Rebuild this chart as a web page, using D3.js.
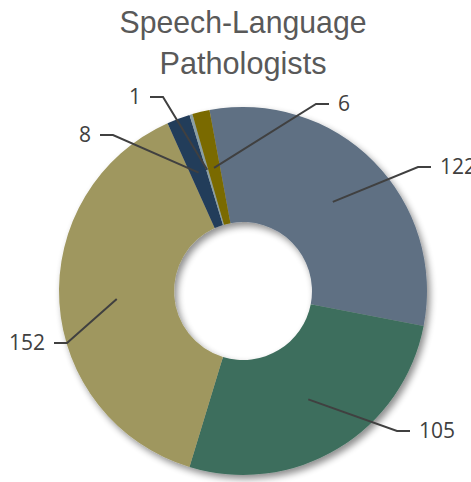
<!DOCTYPE html>
<meta charset='utf-8'>
<style>
  body { margin:0; background:#fff; }
  .title { font-family:'Liberation Sans',sans-serif; font-size:32px; fill:#595959; }
  .lbl { font-family:'Open Sans',sans-serif; font-size:21px; fill:#404040; }
  .leader { fill:none; stroke:#404040; stroke-width:2px; }
</style>
<body>
<script src='https://d3js.org/d3.v7.min.js'></script>
<script>
  var values = [122, 105, 152, 8, 1, 6];
  var colors = ['#5f7083', '#3e6e5d', '#9f975f', '#243c5a', '#8a9fa3', '#7a6a06'];
  var titleLines = ['Speech-Language', 'Pathologists'];
  // bend point of each leader line, relative to the centre, and label side
  var elbows = [[175, -124, 1], [154, 140, 1], [-176, 52, -1], [-130, -156, -1], [-80, -194, -1], [73, -187, 1]];

  var width = 471, height = 482;
  var cx = 243, cy = 291;
  var outer = 184, inner = 69;
  var a0 = -10.5 * Math.PI / 180;

  var svg = d3.select('body').append('svg')
    .attr('width', width)
    .attr('height', height);

  var defs = svg.append('defs');
  var f = defs.append('filter').attr('id', 'shadow')
    .attr('x', '-20%').attr('y', '-20%').attr('width', '140%').attr('height', '140%');
  f.append('feGaussianBlur').attr('in', 'SourceAlpha').attr('stdDeviation', 3.5);
  f.append('feOffset').attr('dx', 3).attr('dy', 4).attr('result', 'off');
  f.append('feComponentTransfer').append('feFuncA').attr('type', 'linear').attr('slope', 0.45);
  var m = f.append('feMerge');
  m.append('feMergeNode');
  m.append('feMergeNode').attr('in', 'SourceGraphic');

  // narrow title: squeeze regular sans to the reference width
  var titleW = [247, 167];
  svg.selectAll('.title')
    .data(titleLines)
    .enter().append('text')
    .attr('class', 'title')
    .attr('x', cx)
    .attr('y', (d, i) => 33 + i * 41)
    .attr('text-anchor', 'middle')
    .attr('textLength', (d, i) => titleW[i])
    .attr('lengthAdjust', 'spacingAndGlyphs')
    .text(d => d);

  var pie = d3.pie().sort(null).startAngle(a0).endAngle(a0 + 2 * Math.PI);
  var arc = d3.arc().innerRadius(inner).outerRadius(outer);
  var arcs = pie(values);

  var g = svg.append('g')
    .attr('transform', 'translate(' + cx + ',' + cy + ')');

  g.append('g')
    .attr('filter', 'url(#shadow)')
    .selectAll('path')
    .data(arcs)
    .enter().append('path')
    .attr('d', arc)
    .attr('fill', (d, i) => colors[i]);

  g.selectAll('.leader')
    .data(arcs)
    .enter().append('polyline')
    .attr('class', 'leader')
    .attr('points', (d, i) => {
      var c = arc.centroid(d), e = elbows[i];
      return [c, [e[0], e[1]], [e[0] + e[2] * 13, e[1]]].map(p => p.join(',')).join(' ');
    });

  g.selectAll('.lbl')
    .data(arcs)
    .enter().append('text')
    .attr('class', 'lbl')
    .attr('x', (d, i) => elbows[i][0] + elbows[i][2] * 22)
    .attr('y', (d, i) => elbows[i][1])
    .attr('dy', '0.35em')
    .attr('text-anchor', (d, i) => elbows[i][2] > 0 ? 'start' : 'end')
    .text(d => d.data);
</script>
</body>
